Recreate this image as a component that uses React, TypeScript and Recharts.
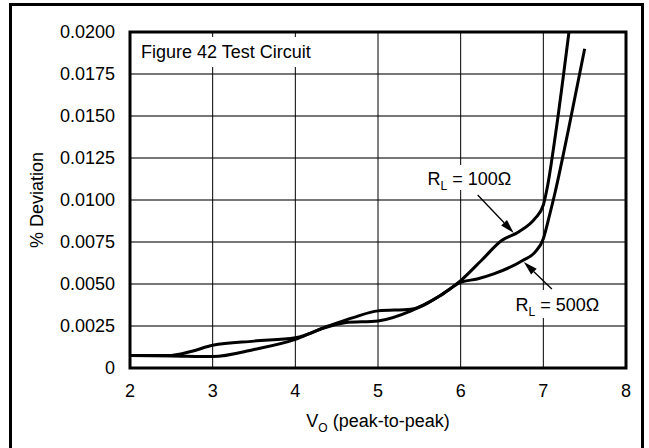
import React from "react";
import { LineChart, Line, XAxis, YAxis, CartesianGrid, ReferenceArea, ReferenceLine } from "recharts";

// R_L = 100 ohm curve
const volts100 = [2, 2.5, 2.75, 3, 3.5, 4, 4.4, 4.7, 5, 5.4, 5.75, 6, 6.25, 6.5, 6.7, 6.9, 7, 7.05, 7.15, 7.31];
const dev100 = [0.00075, 0.00075, 0.001, 0.00135, 0.0016, 0.0018, 0.0025, 0.003, 0.0034, 0.0035, 0.0043, 0.0052, 0.0064, 0.0076, 0.0081, 0.0089, 0.0097, 0.0108, 0.014, 0.02];

// R_L = 500 ohm curve
const volts500 = [2, 2.5, 3, 3.5, 4, 4.3, 4.6, 5, 5.4, 5.75, 6, 6.2, 6.4, 6.75, 6.9, 7, 7.07, 7.14, 7.3, 7.5];
const dev500 = [0.00075, 0.00072, 0.00068, 0.0011, 0.0017, 0.0023, 0.0027, 0.0028, 0.0034, 0.0043, 0.0051, 0.0053, 0.0056, 0.0064, 0.0069, 0.0077, 0.009, 0.0104, 0.0141, 0.019];

const xTicks = [2, 3, 4, 5, 6, 7, 8];
const yTicks = [0, 0.0025, 0.005, 0.0075, 0.01, 0.0125, 0.015, 0.0175, 0.02];

const data100 = volts100.map((x, i) => ({ x, y: dev100[i] }));
const data500 = volts500.map((x, i) => ({ x, y: dev500[i] }));

const FONT = "'Liberation Sans', Arial, Helvetica, sans-serif";
const FS = 18;

const Arrow = (p: any) => {
    const { x1, y1, x2, y2 } = p;
    const a = Math.atan2(y2 - y1, x2 - x1);
    const len = 14, half = 4;
    const bx = x2 - len * Math.cos(a), by = y2 - len * Math.sin(a);
    const pts = [
        `${x2},${y2}`,
        `${bx + half * Math.sin(a)},${by - half * Math.cos(a)}`,
        `${bx - half * Math.sin(a)},${by + half * Math.cos(a)}`,
    ].join(" ");
    return (
        <g>
            <line x1={x1} y1={y1} x2={bx} y2={by} stroke="#000" strokeWidth={1.3} />
            <polygon points={pts} fill="#000" />
        </g>
    );
};

const rlLabel = (ohms: string, dx: number, dy: number) => (props: any) => {
    const vb = props.viewBox;
    return (
        <text x={vb.x + dx} y={vb.y + dy} fontFamily={FONT} fontSize={FS} fill="#000">
            R
            <tspan fontSize={12} dy={5}>L</tspan>
            <tspan dy={-5}>{` = ${ohms}\u03A9`}</tspan>
        </text>
    );
};

export default function App() {
    return (
        <div style={{ position: "fixed", left: 0, top: 0, width: 649, height: 448, background: "#fff", overflow: "hidden" }}>
            <div style={{ position: "absolute", left: 9, top: 3, width: 629, height: 460, border: "3px solid #000" }} />
            <div style={{ position: "absolute", left: 0, top: 0 }}>
                <LineChart width={649} height={448} margin={{ top: 32, right: 23, left: 10, bottom: 50 }}>
                    <CartesianGrid horizontal={true} vertical={false} stroke="#777" strokeWidth={2} />
                    <CartesianGrid horizontal={false} vertical={true} stroke="#000" strokeWidth={1} />
                    <XAxis
                        dataKey="x"
                        type="number"
                        domain={[2, 8]}
                        ticks={xTicks}
                        allowDuplicatedCategory={false}
                        axisLine={false}
                        tickLine={false}
                        tickMargin={10}
                        height={30}
                        tick={{ fill: "#000", fontSize: FS, fontFamily: FONT }}
                        label={{
                            content: (props: any) => {
                                const vb = props.viewBox;
                                return (
                                    <text x={vb.x + vb.width / 2} y={427} textAnchor="middle" fontFamily={FONT} fontSize={FS} fill="#000">
                                        V
                                        <tspan fontSize={12} dy={5}>O</tspan>
                                        <tspan dy={-5}> (peak-to-peak)</tspan>
                                    </text>
                                );
                            },
                        }}
                    />
                    <YAxis
                        type="number"
                        domain={[0, 0.02]}
                        ticks={yTicks}
                        axisLine={false}
                        tickLine={false}
                        tickMargin={9}
                        width={120}
                        tick={{ fill: "#000", fontSize: FS, fontFamily: FONT }}
                        tickFormatter={(v: number) => (v === 0 ? "0" : v.toFixed(4))}
                        label={{
                            content: (props: any) => {
                                const vb = props.viewBox;
                                const cy = vb.y + vb.height / 2;
                                return (
                                    <text x={43} y={cy} textAnchor="middle" transform={`rotate(-90 43 ${cy})`} fontFamily={FONT} fontSize={FS} fill="#000">
                                        % Deviation
                                    </text>
                                );
                            },
                        }}
                    />

                    {/* white boxes behind the annotations */}
                    <ReferenceArea
                        x1={2} x2={4.3} y1={0.01792} y2={0.0197}
                        fill="#fff" fillOpacity={1} stroke="none"
                        label={{
                            content: (props: any) => {
                                const vb = props.viewBox;
                                return (
                                    <text x={vb.x + 11} y={vb.y + 21} fontFamily={FONT} fontSize={FS} fill="#000">
                                        Figure 42 Test Circuit
                                    </text>
                                );
                            },
                        }}
                    />
                    <ReferenceArea
                        x1={5.515} x2={6.75} y1={0.0106} y2={0.01208}
                        fill="#fff" fillOpacity={1} stroke="none"
                        label={{ content: rlLabel("100", 7, 20) }}
                    />
                    <ReferenceArea
                        x1={6.58} x2={7.8} y1={0.00298} y2={0.00464}
                        fill="#fff" fillOpacity={1} stroke="none"
                        label={{ content: rlLabel("500", 7, 21) }}
                    />

                    <ReferenceLine segment={[{ x: 6.206, y: 0.0103 }, { x: 6.642, y: 0.00804 }]} shape={Arrow} />
                    <ReferenceLine segment={[{ x: 7.103, y: 0.0047 }, { x: 6.764, y: 0.00631 }]} shape={Arrow} />

                    <Line data={data100} dataKey="y" type="monotone" stroke="#000" strokeWidth={3} dot={false} isAnimationActive={false} />
                    <Line data={data500} dataKey="y" type="monotone" stroke="#000" strokeWidth={3} dot={false} isAnimationActive={false} />

                    {/* plot frame */}
                    <ReferenceArea x1={2} x2={8} y1={0} y2={0.02} fill="none" stroke="#000" strokeWidth={3} />
                </LineChart>
            </div>
        </div>
    );
}
